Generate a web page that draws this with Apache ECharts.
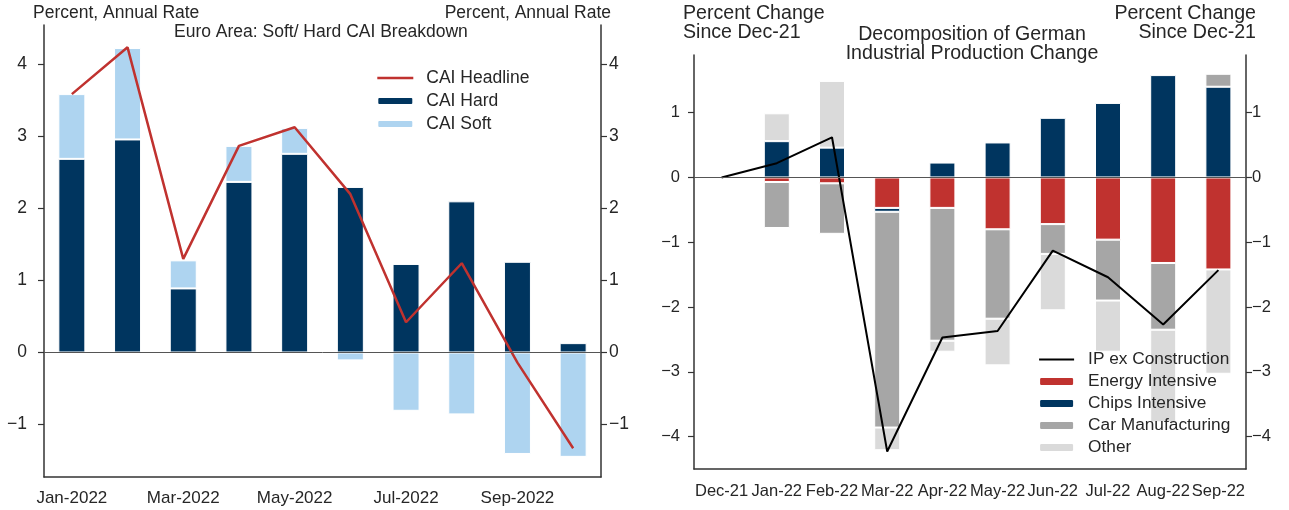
<!DOCTYPE html>
<html>
<head>
<meta charset="utf-8">
<title>Euro Area CAI / German IP</title>
<script src="https://cdn.jsdelivr.net/npm/echarts@6/dist/echarts.min.js"></script>
<style>
  html, body { margin: 0; padding: 0; background: #fff; }
  #chart { width: 1289px; height: 510px; }
</style>
</head>
<body>
<div id="chart"></div>
<script>
// ---- left panel: Euro Area CAI ----
const caiMonths = ['Jan-2022', 'Feb-2022', 'Mar-2022', 'Apr-2022', 'May-2022', 'Jun-2022', 'Jul-2022', 'Aug-2022', 'Sep-2022', 'Oct-2022']
const caiHard = [2.69, 2.96, 0.89, 2.37, 2.76, 2.30, 1.23, 2.10, 1.26, 0.13]
const caiSoft = [0.90, 1.27, 0.39, 0.50, 0.36, -0.11, -0.81, -0.86, -1.41, -1.45]
const caiHeadline = [3.59, 4.24, 1.30, 2.87, 3.13, 2.20, 0.42, 1.24, -0.14, -1.33]
const caiTicks = [-1, 0, 1, 2, 3, 4]

// ---- right panel: German IP decomposition ----
const ipMonths = ['Dec-21', 'Jan-22', 'Feb-22', 'Mar-22', 'Apr-22', 'May-22', 'Jun-22', 'Jul-22', 'Aug-22', 'Sep-22']
const energyIntensive = [0, -0.07, -0.09, -0.47, -0.47, -0.80, -0.72, -0.96, -1.32, -1.42]
const chipsIntensive = [0, 0.56, 0.46, -0.06, 0.23, 0.54, 0.92, 1.15, 1.58, 1.40]
const carManufacturing = [0, -0.71, -0.78, -3.33, -2.05, -1.38, -0.46, -0.94, -1.03, 0.20]
const otherSectors = [0, 0.43, 1.03, -0.35, -0.17, -0.72, -0.87, -0.79, -1.43, -1.61]
const ipExConstruction = [0, 0.22, 0.62, -4.23, -2.47, -2.37, -1.13, -1.54, -2.27, -1.43]
const ipTicks = [-4, -3, -2, -1, 0, 1]

const FONT = '"Liberation Sans", Arial, Helvetica, sans-serif'
const TXT = '#262626'
const AXIS = '#333'

const NAVY = '#00355f'
const LIGHT_BLUE = '#aed4f0'
const RED = '#c0322f'
const GRAY = '#a6a6a6'
const LIGHT_GRAY = '#dadada'

const minus = v => String(v).replace('-', '\u2212')

// shared axis styling
const yAxisBase = (grid, min, max, ticks, pos, margin, size) => ({
  type: 'value',
  gridIndex: grid,
  position: pos,
  min: min,
  max: max,
  splitLine: { show: false },
  axisLine: { show: true, onZero: false, lineStyle: { color: AXIS, width: 1.5 } },
  axisTick: { show: true, length: 6, customValues: ticks, lineStyle: { color: AXIS, width: 1.2 } },
  axisLabel: {
    customValues: ticks,
    margin: margin,
    color: TXT,
    fontFamily: FONT,
    fontSize: size,
    formatter: minus
  }
})

const zeroLine = {
  silent: true,
  symbol: 'none',
  label: { show: false },
  lineStyle: { color: '#555', width: 1, type: 'solid' },
  data: [{ yAxis: 0 }]
}

// line items in the legend: hide the marker, keep the stroke
const lineLegend = (name, color, width) => ({
  name: name,
  itemStyle: { opacity: 0 },
  lineStyle: { color: color, width: width }
})

const chart = echarts.init(document.getElementById('chart'), null, { renderer: 'canvas' })

const option = {
  animation: false,
  backgroundColor: '#fff',
  textStyle: { fontFamily: FONT },
  graphic: [
    { type: 'text', x: 33, y: 4, style: { text: 'Percent, Annual Rate', font: '17.5px ' + FONT, fill: TXT } },
    { type: 'text', x: 611, y: 4, style: { text: 'Percent, Annual Rate', font: '17.5px ' + FONT, fill: TXT, align: 'right' } },
    { type: 'text', x: 174, y: 23, style: { text: 'Euro Area: Soft/ Hard CAI Breakdown', font: '17.5px ' + FONT, fill: TXT } },
    { type: 'text', x: 683, y: 4, style: { text: 'Percent Change\nSince Dec-21', font: '19.6px ' + FONT, fill: TXT, lineHeight: 19 } },
    { type: 'text', x: 1256, y: 4, style: { text: 'Percent Change\nSince Dec-21', font: '19.6px ' + FONT, fill: TXT, lineHeight: 19, align: 'right' } },
    { type: 'text', x: 972, y: 25, style: { text: 'Decomposition of German\nIndustrial Production Change', font: '19.6px ' + FONT, fill: TXT, lineHeight: 19, align: 'center' } }
  ],
  legend: [
    {
      left: 376,
      top: 69,
      padding: 0,
      orient: 'vertical',
      itemWidth: 36,
      itemHeight: 8,
      itemGap: 5,
      textStyle: { color: TXT, fontFamily: FONT, fontSize: 17.5, lineHeight: 17.5, padding: [0, 0, 0, 8] },
      data: [lineLegend('CAI Headline', RED, 2.6), 'CAI Hard', 'CAI Soft']
    },
    {
      left: 1038,
      top: 351,
      padding: 0,
      orient: 'vertical',
      itemWidth: 35,
      itemHeight: 9,
      itemGap: 5,
      textStyle: { color: TXT, fontFamily: FONT, fontSize: 17.3, lineHeight: 17, padding: [0, 0, 0, 9] },
      data: [lineLegend('IP ex Construction', '#000', 2.2), 'Energy Intensive', 'Chips Intensive', 'Car Manufacturing', 'Other']
    }
  ],
  grid: [
    { left: 44, top: 25, width: 557, height: 452 },
    { left: 694, top: 55, width: 552, height: 414 }
  ],
  xAxis: [
    {
      type: 'category',
      gridIndex: 0,
      data: caiMonths,
      axisLine: { onZero: false, lineStyle: { color: AXIS, width: 1.5 } },
      axisTick: { interval: 1, alignWithLabel: true, length: 6, lineStyle: { color: AXIS, width: 1.2 } },
      axisLabel: { interval: 1, margin: 13, color: TXT, fontFamily: FONT, fontSize: 17 }
    },
    {
      type: 'category',
      gridIndex: 1,
      data: ipMonths,
      axisLine: { onZero: false, lineStyle: { color: AXIS, width: 1.5 } },
      axisTick: { interval: 0, alignWithLabel: true, length: 6, lineStyle: { color: AXIS, width: 1.2 } },
      axisLabel: { interval: 0, margin: 14, color: TXT, fontFamily: FONT, fontSize: 16.5 }
    }
  ],
  yAxis: [
    yAxisBase(0, -1.73, 4.55, caiTicks, 'left', 17, 17.5),
    yAxisBase(0, -1.73, 4.55, caiTicks, 'right', 8, 17.5),
    yAxisBase(1, -4.5, 1.89, ipTicks, 'left', 14, 16.5),
    yAxisBase(1, -4.5, 1.89, ipTicks, 'right', 6, 16.5)
  ],
  series: [
    {
      name: 'CAI Hard',
      type: 'bar',
      xAxisIndex: 0,
      yAxisIndex: 0,
      stack: 'cai',
      barWidth: 27,
      data: caiHard,
      itemStyle: { color: NAVY, borderColor: '#fff', borderWidth: 1 },
      markLine: zeroLine
    },
    {
      name: 'CAI Soft',
      type: 'bar',
      xAxisIndex: 0,
      yAxisIndex: 0,
      stack: 'cai',
      barWidth: 27,
      data: caiSoft,
      itemStyle: { color: LIGHT_BLUE, borderColor: '#fff', borderWidth: 1 }
    },
    {
      name: 'CAI Headline',
      type: 'line',
      xAxisIndex: 0,
      yAxisIndex: 0,
      symbol: 'none',
      data: caiHeadline,
      lineStyle: { color: RED, width: 2.5 },
      itemStyle: { color: RED }
    },
    {
      name: 'Energy Intensive',
      type: 'bar',
      xAxisIndex: 1,
      yAxisIndex: 2,
      stack: 'ip',
      barWidth: 26,
      data: energyIntensive,
      itemStyle: { color: RED, borderColor: '#fff', borderWidth: 1 },
      markLine: zeroLine
    },
    {
      name: 'Chips Intensive',
      type: 'bar',
      xAxisIndex: 1,
      yAxisIndex: 2,
      stack: 'ip',
      barWidth: 26,
      data: chipsIntensive,
      itemStyle: { color: NAVY, borderColor: '#fff', borderWidth: 1 }
    },
    {
      name: 'Car Manufacturing',
      type: 'bar',
      xAxisIndex: 1,
      yAxisIndex: 2,
      stack: 'ip',
      barWidth: 26,
      data: carManufacturing,
      itemStyle: { color: GRAY, borderColor: '#fff', borderWidth: 1 }
    },
    {
      name: 'Other',
      type: 'bar',
      xAxisIndex: 1,
      yAxisIndex: 2,
      stack: 'ip',
      barWidth: 26,
      data: otherSectors,
      itemStyle: { color: LIGHT_GRAY, borderColor: '#fff', borderWidth: 1 }
    },
    {
      name: 'IP ex Construction',
      type: 'line',
      xAxisIndex: 1,
      yAxisIndex: 2,
      symbol: 'none',
      data: ipExConstruction,
      lineStyle: { color: '#000', width: 2 },
      itemStyle: { color: '#000' }
    }
  ]
}

chart.setOption(option)

window.addEventListener('resize', () => {
  chart.resize()
})
</script>
</body>
</html>
